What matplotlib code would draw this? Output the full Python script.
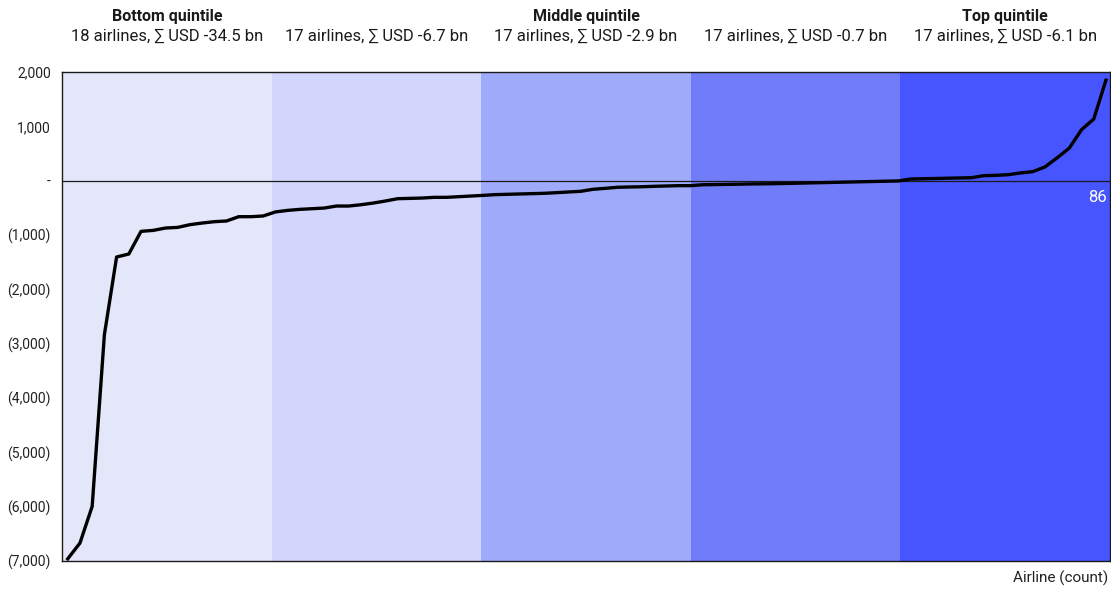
import matplotlib
matplotlib.use("Agg")
import matplotlib.pyplot as plt
from matplotlib.patches import Rectangle
from matplotlib.ticker import FuncFormatter

plt.rcParams["font.family"] = ["Roboto", "DejaVu Sans"]

# net result per airline, USD m, sorted ascending
bottom_q = [-6960, -6670, -5995, -2835, -1405, -1350, -933, -915, -872, -860,
            -810, -780, -755, -742, -663, -663, -650, -576]
second_q = [-547, -528, -516, -504, -467, -467, -443, -412, -375, -332,
            -326, -320, -307, -307, -295, -283, -271]
middle_q = [-257, -251, -245, -239, -233, -221, -208, -196, -159, -141,
            -122, -116, -112, -104, -98, -92, -92]
fourth_q = [-75, -72, -68, -65, -60, -58, -55, -50, -45, -40,
            -35, -30, -25, -20, -15, -10, -5]
top_q = [30, 35, 40, 45, 50, 55, 92, 98, 110, 142,
         166, 252, 420, 600, 938, 1135, 1850]

band_titles = ["Bottom quintile", "", "Middle quintile", "", "Top quintile"]
band_notes = ["18 airlines, \u2211 USD -34.5 bn", "17 airlines, \u2211 USD -6.7 bn",
              "17 airlines, \u2211 USD -2.9 bn", "17 airlines, \u2211 USD -0.7 bn",
              "17 airlines, \u2211 USD -6.1 bn"]
band_colors = ["#E4E6FA", "#D3D6FC", "#A0AAFA", "#717CF8", "#4655FD"]
y_ticks = [2000, 1000, 0, -1000, -2000, -3000, -4000, -5000, -6000, -7000]


def _fmt(value, _pos=None):
    if value == 0:
        return "-"
    if value < 0:
        return f"({abs(value):,.0f})"
    return f"{value:,.0f}"


values = bottom_q + second_q + middle_q + fourth_q + top_q
x = list(range(1, len(values) + 1))

fig = plt.figure(figsize=(11.11, 5.9), dpi=100)
ax = fig.add_axes([62 / 1111, 29 / 590, 1048 / 1111, 489 / 590])

for i, color in enumerate(band_colors):
    ax.add_patch(Rectangle((i / 5, 0), 0.2, 1, transform=ax.transAxes,
                           facecolor=color, edgecolor="none", zorder=0))
    ax.text(i / 5 + 0.1, 1.0736, band_notes[i], transform=ax.transAxes,
            ha="center", va="center", fontsize=12, color="#1a1a1a")
    if band_titles[i]:
        ax.text(i / 5 + 0.1, 1.1145, band_titles[i], transform=ax.transAxes,
                ha="center", va="center", fontsize=11.5, fontweight="bold",
                color="#1a1a1a")

ax.axhline(0, color="#1a1a1a", linewidth=0.9, zorder=1)
ax.plot(x, values, color="black", linewidth=2.4, zorder=3,
        solid_joinstyle="round")

ax.set_xlim(0.53, 86.33)
ax.set_ylim(-7000, 2000)
ax.set_yticks(y_ticks)
ax.yaxis.set_major_formatter(FuncFormatter(_fmt))
ax.tick_params(axis="y", length=0, pad=8, labelsize=10, labelcolor="#222222")
ax.set_xticks([])
for spine in ax.spines.values():
    spine.set_color("#1a1a1a")
    spine.set_linewidth(1.0)

ax.text(0.997, 0.744, "86", transform=ax.transAxes, ha="right", va="center",
        fontsize=12, color="white")
fig.text(1108 / 1111, 1 - 578 / 590, "Airline (count)", ha="right",
         va="center", fontsize=11, color="#222222")

fig.savefig("out.png", dpi=100)
